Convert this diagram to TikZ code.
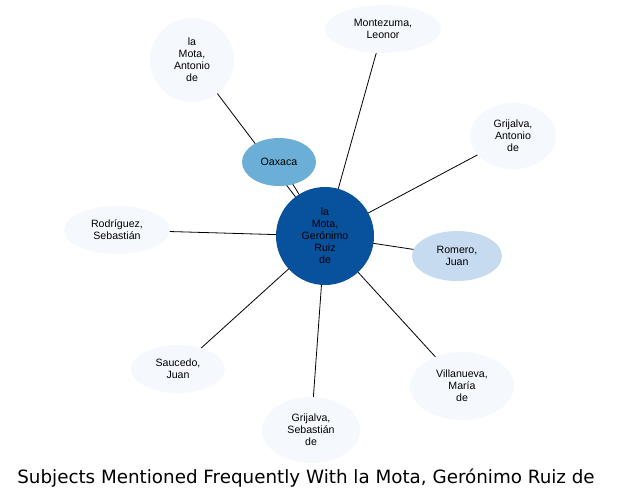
\documentclass[tikz,border=0pt]{standalone}
\usepackage{fontspec}
\setmainfont{Liberation Sans}
\newfontfamily\titlefont{DejaVu Sans}
\usetikzlibrary{shapes.geometric,backgrounds}
\definecolor{hubblue}{HTML}{08519C}
\definecolor{midblue}{HTML}{6BAED6}
\definecolor{paleblue}{HTML}{C6DBEF}
\definecolor{faintblue}{HTML}{F5F9FE}
\tikzset{
    subject/.style={ellipse,fill=faintblue,inner sep=0pt,align=center,
        font=\fontsize{10.6}{12}\selectfont},
    link/.style={draw=black,line width=0.8pt}
}
\begin{document}
\begin{tikzpicture}[x=1pt,y=-1pt]
        \useasboundingbox (0,0) rectangle (620,499);
        % hub
        \node[subject,circle,fill=hubblue,minimum size=98pt] (hub) at (325,236) {la\\Mota,\\Gerónimo\\Ruiz\\de};
        % neighbours
        \node[subject,fill=midblue,minimum width=74pt,minimum height=48pt] (oaxaca) at (279,162) {Oaxaca};
        \node[subject,minimum width=84pt,minimum height=84pt] (motaantonio) at (192,60) {la\\Mota,\\Antonio\\de};
        \node[subject,minimum width=116pt,minimum height=48pt] (montezuma) at (383,29) {Montezuma,\\Leonor};
        \node[subject,minimum width=86pt,minimum height=66pt] (grijalvaantonio) at (513,136) {Grijalva,\\Antonio\\de};
        \node[subject,minimum width=106pt,minimum height=48pt] (rodriguez) at (117,230) {Rodríguez,\\Sebastián};
        \node[subject,fill=paleblue,minimum width=90pt,minimum height=50pt] (romero) at (457,256) {Romero,\\Juan};
        \node[subject,minimum width=94pt,minimum height=48pt] (saucedo) at (178,369) {Saucedo,\\Juan};
        \node[subject,minimum width=98pt,minimum height=66pt] (grijalvasebastian) at (311,430) {Grijalva,\\Sebastián\\de};
        \node[subject,minimum width=104pt,minimum height=68pt] (villanueva) at (462,386) {Villanueva,\\María\\de};
        % links behind the nodes
        \begin{scope}[on background layer]
            \foreach \other in {oaxaca,motaantonio,montezuma,grijalvaantonio,rodriguez,
                romero,saucedo,grijalvasebastian,villanueva}
                \draw[link] (hub.center) -- (\other.center);
        \end{scope}
        \node[font=\titlefont\fontsize{18.3}{21}\selectfont,anchor=base] (title) at (306,483) {Subjects Mentioned Frequently With la Mota, Gerónimo Ruiz de};
    \end{tikzpicture}
\end{document}
